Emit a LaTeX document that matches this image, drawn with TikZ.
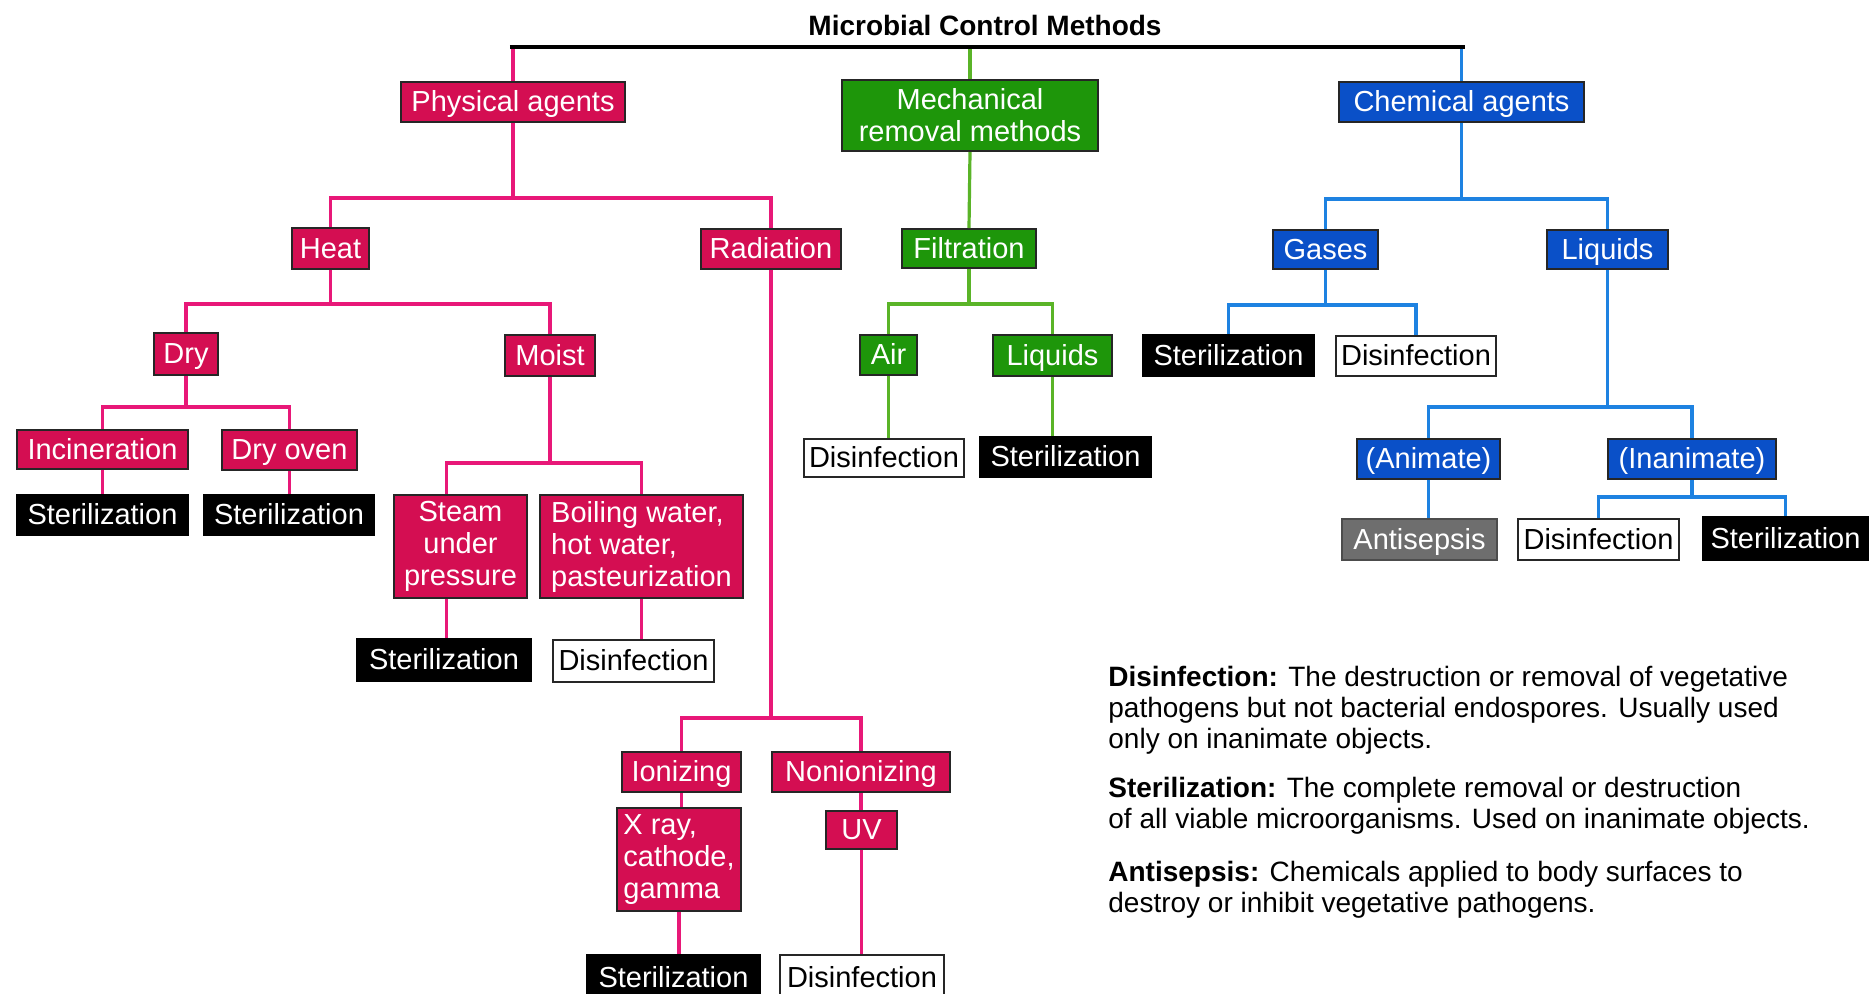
\documentclass[tikz,border=0pt]{standalone}
\usepackage{fontspec}
\setmainfont{Liberation Sans}
\definecolor{pinkbox}{RGB}{212,14,82}
\definecolor{pinkline}{RGB}{232,24,120}
\definecolor{greenbox}{RGB}{30,150,10}
\definecolor{greenline}{RGB}{90,180,40}
\definecolor{bluebox}{RGB}{10,80,200}
\definecolor{blueline}{RGB}{30,130,225}
\definecolor{greybox}{RGB}{110,110,110}
\tikzset{
  basebox/.style={draw=black!85, line width=1pt, inner sep=0pt, text=white,
    font=\fontsize{14.5}{16}\selectfont, align=center, text height=10.5pt, text depth=1pt},
  pbox/.style={basebox, fill=pinkbox},
  gbox/.style={basebox, fill=greenbox},
  bbox/.style={basebox, fill=bluebox},
  kbox/.style={basebox, fill=black, draw=black},
  wbox/.style={basebox, fill=white, text=black},
  abox/.style={basebox, fill=greybox, draw=black!70},
  pl/.style={draw=pinkline, line width=1.6pt},
  gl/.style={draw=greenline, line width=1.6pt},
  bl/.style={draw=blueline, line width=1.6pt},
  topline/.style={draw=black, line width=2pt},
  legend/.style={inner sep=0pt, anchor=north west, align=left, text=black,
    font=\fontsize{14}{15.5}\selectfont},
  wh/.style 2 args={minimum width=#1*0.5pt, minimum height=#2*0.5pt},
}
\begin{document}
\begin{tikzpicture}[x=0.5pt, y=-0.5pt]
\fill[white] (0,0) rectangle (1870,993);
\useasboundingbox (0,0) rectangle (1870,993);

% title
\node[font=\bfseries\fontsize{14}{16}\selectfont] (title) at (985,25) {Microbial Control Methods};

% physical agents (pink)
\node[pbox, wh={224}{40}] (phys) at (513,102) {Physical agents};
\node[pbox, wh={77}{41}] (heat) at (330.5,248.5) {Heat};
\node[pbox, wh={140}{40}] (rad) at (771,249) {Radiation};
\node[pbox, wh={64}{42}] (dry) at (186,354) {Dry};
\node[pbox, wh={90}{41}] (moist) at (550,355.5) {Moist};
\node[pbox, wh={171}{39}] (incin) at (102.5,449.5) {Incineration};
\node[pbox, wh={135}{40}] (dryoven) at (289.5,450) {Dry oven};
\node[pbox, wh={133}{103}, text height=, text depth=] (steam) at (460.5,546.5) {Steam\\under\\pressure};
\node[pbox, wh={203}{103}, align=left, text height=, text depth=] (boil) at (641.5,546.5) {Boiling water,\\hot water,\\pasteurization};
\node[pbox, wh={119}{40}] (ion) at (681.5,772) {Ionizing};
\node[pbox, wh={178}{40}] (nonion) at (861,772) {Nonionizing};
\node[pbox, wh={124}{103}, align=left, text height=, text depth=] (xray) at (679,859.5) {X ray,\\cathode,\\gamma};
\node[pbox, wh={71}{38}] (uv) at (861.5,830) {UV};

\node[kbox, wh={171}{40}] (s1) at (102.5,515) {Sterilization};
\node[kbox, wh={170}{40}] (s2) at (289,515) {Sterilization};
\node[kbox, wh={174}{42}] (s3) at (444,660) {Sterilization};
\node[wbox, wh={161}{42}] (d1) at (633.5,661) {Disinfection};
\node[kbox, wh={173}{45}] (s4) at (673.5,977.5) {Sterilization};
\node[wbox, wh={164}{45}] (d2) at (862,977.5) {Disinfection};

% mechanical (green)
\node[gbox, wh={256}{71}, text height=, text depth=] (mech) at (970,115.5) {Mechanical\\removal methods};
\node[gbox, wh={134}{39}] (filt) at (969,248.5) {Filtration};
\node[gbox, wh={57}{40}] (air) at (888.5,355) {Air};
\node[gbox, wh={119}{41}] (gliq) at (1052.5,355.5) {Liquids};
\node[wbox, wh={160}{38}] (d3) at (884,458) {Disinfection};
\node[kbox, wh={171}{40}] (s5) at (1065.5,457) {Sterilization};

% chemical (blue)
\node[bbox, wh={245}{40}] (chem) at (1461.5,102) {Chemical agents};
\node[bbox, wh={105}{39}] (gases) at (1325.5,249.5) {Gases};
\node[bbox, wh={121}{39}] (bliq) at (1607.5,249.5) {Liquids};
\node[kbox, wh={171}{41}] (s6) at (1228.5,355.5) {Sterilization};
\node[wbox, wh={160}{40}] (d4) at (1416,356) {Disinfection};
\node[bbox, wh={143}{40}] (anim) at (1428.5,459) {(Animate)};
\node[bbox, wh={168}{40}] (inanim) at (1692,459) {(Inanimate)};
\node[abox, wh={155}{41}] (antis) at (1419.5,539.5) {Antisepsis};
\node[wbox, wh={161}{41}] (d5) at (1598.5,539.5) {Disinfection};
\node[kbox, wh={165}{43}] (s7) at (1785.5,538.5) {Sterilization};

% bus coordinates
\coordinate (topbus) at (0,47);
\coordinate (bphys) at (0,198);
\coordinate (bheat) at (0,304);
\coordinate (bdry) at (0,407);
\coordinate (bmoist) at (0,463);
\coordinate (brad) at (0,718);
\coordinate (bfilt) at (0,304);
\coordinate (bchem) at (0,199);
\coordinate (bgas) at (0,305);
\coordinate (bliqb) at (0,407);
\coordinate (binan) at (0,497);

% top
\draw[pl] (phys.north |- topbus) -- (phys.north);
\draw[gl] (mech.north |- topbus) -- (mech.north);
\draw[bl] (chem.north |- topbus) -- (chem.north);
\draw[topline] ([xshift=-1.6]phys.north |- topbus) -- ([xshift=1.6]chem.north |- topbus);

% pink tree
\draw[pl] (phys.south) -- (phys.south |- bphys);
\draw[pl] (heat.north) |- (rad.north |- bphys) -- (rad.north);
\draw[pl] (heat.south) -- (heat.south |- bheat);
\draw[pl] (dry.north) |- (moist.north |- bheat) -- (moist.north);
\draw[pl] (dry.south) -- (dry.south |- bdry);
\draw[pl] (incin.north) |- (dryoven.north |- bdry) -- (dryoven.north);
\draw[pl] (incin.south) -- (s1.north);
\draw[pl] (dryoven.south) -- (s2.north -| dryoven.south);
\draw[pl] (moist.south) -- (moist.south |- bmoist);
\draw[pl] ([xshift=-7]steam.north) |- (boil.north |- bmoist) -- (boil.north);
\draw[pl] ([xshift=-7]steam.south) -- ([xshift=-7]steam.south |- s3.north);
\draw[pl] (boil.south) -- (boil.south |- d1.north);
\draw[pl] (rad.south) -- (rad.south |- brad);
\draw[pl] (ion.north) |- (nonion.north |- brad) -- (nonion.north);
\draw[pl] (ion.south) -- (ion.south |- xray.north);
\draw[pl] (xray.south) -- (xray.south |- s4.north);
\draw[pl] (nonion.south) -- (nonion.south |- uv.north);
\draw[pl] (uv.south) -- (uv.south |- d2.north);

% green tree
\draw[gl] (mech.south) -- (filt.north);
\draw[gl] (filt.south) -- (filt.south |- bfilt);
\draw[gl] (air.north) |- (gliq.north |- bfilt) -- (gliq.north);
\draw[gl] (air.south) -- (air.south |- d3.north);
\draw[gl] (gliq.south) -- (gliq.south |- s5.north);

% blue tree
\draw[bl] (chem.south) -- (chem.south |- bchem);
\draw[bl] (gases.north) |- (bliq.north |- bchem) -- (bliq.north);
\draw[bl] (gases.south) -- (gases.south |- bgas);
\draw[bl] (s6.north) |- (d4.north |- bgas) -- (d4.north);
\draw[bl] (bliq.south) -- (bliq.south |- bliqb);
\draw[bl] (anim.north) |- (inanim.north |- bliqb) -- (inanim.north);
\draw[bl] (anim.south) -- (anim.south |- antis.north);
\draw[bl] (inanim.south) -- (inanim.south |- binan);
\draw[bl] (d5.north) |- (s7.north |- binan) -- (s7.north);

% legend
\node[legend] (ldis) at (1108,666) {\textbf{Disinfection:} The destruction or removal of vegetative\\pathogens but not bacterial endospores. Usually used\\only on inanimate objects.};
\node[legend] (lster) at (1108,777) {\textbf{Sterilization:} The complete removal or destruction\\of all viable microorganisms. Used on inanimate objects.};
\node[legend] (lanti) at (1108,861) {\textbf{Antisepsis:} Chemicals applied to body surfaces to\\destroy or inhibit vegetative pathogens.};
\end{tikzpicture}
\end{document}
